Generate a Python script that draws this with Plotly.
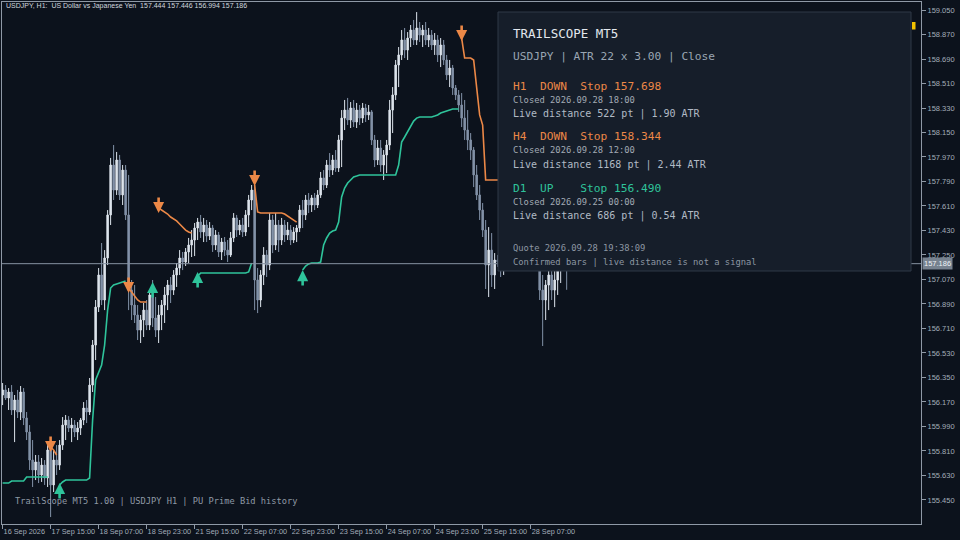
import plotly.graph_objects as go

N = None

# ---------------- data ----------------
bars = list(range(189))

opens = [
    156.221, 156.258, 156.199, 156.243, 156.111, 156.184, 156.096, 156.243, 156.052, 155.949,
    155.743, 155.670, 155.729, 155.633, 155.706, 155.611, 155.817, 155.560, 155.743, 155.706,
    155.853, 156.000, 156.037, 155.978, 156.000, 155.949, 155.978, 156.037, 156.125, 156.096,
    156.294, 156.588, 156.867, 157.103, 156.919, 157.228, 157.544, 157.911, 157.727, 157.948,
    157.691, 157.874, 157.544, 156.992, 156.882, 156.809, 156.698, 156.772, 156.845, 156.735,
    156.956, 156.787, 156.698, 156.809, 156.882, 156.956, 157.029, 156.992, 157.103, 157.154,
    157.228, 157.198, 157.272, 157.323, 157.360, 157.448, 157.492, 157.419, 157.470, 157.389,
    157.448, 157.323, 157.397, 157.272, 157.345, 157.286, 157.250, 157.375, 157.522, 157.433,
    157.470, 157.419, 157.544, 157.654, 157.727, 157.066, 156.919, 157.103, 157.250, 157.176,
    157.507, 157.323, 157.470, 157.360, 157.470, 157.397, 157.433, 157.360, 157.419, 157.448,
    157.580, 157.544, 157.654, 157.617, 157.669, 157.617, 157.691, 157.816, 157.764, 157.911,
    157.874, 157.948, 157.889, 158.095, 158.256, 158.315, 158.242, 158.330, 158.227, 158.315,
    158.256, 158.330, 158.279, 158.301, 158.095, 157.948, 158.036, 157.911, 157.985, 158.058,
    158.315, 158.426, 158.646, 158.720, 158.830, 158.756, 158.844, 158.903, 158.830, 158.918,
    158.866, 158.903, 158.830, 158.866, 158.793, 158.830, 158.720, 158.793, 158.683, 158.573,
    158.624, 158.477, 158.426, 158.352, 158.256, 158.168, 158.095, 158.021, 157.838, 157.691,
    157.580, 157.433, 157.176, 157.286, 157.103, 157.213, 157.198, 157.139, 157.250, 157.323,
    157.397, 157.323, 157.375, 157.448, 157.397, 157.286, 157.323, 157.250, 157.213, 157.198,
    156.992, 156.919, 157.029, 157.103, 156.992, 157.066, 157.139, 157.176, 157.444,
]
highs = [
    156.309, 156.294, 156.272, 156.294, 156.221, 156.258, 156.287, 156.272, 156.096, 156.000,
    155.890, 155.780, 155.780, 155.758, 155.743, 155.853, 155.890, 155.817, 155.853, 155.890,
    156.059, 156.074, 156.066, 156.052, 156.037, 156.022, 156.052, 156.169, 156.184, 156.346,
    156.625, 156.919, 157.154, 157.338, 157.286, 157.580, 157.963, 158.058, 158.007, 157.985,
    157.911, 157.911, 157.838, 157.066, 157.029, 156.882, 156.809, 156.897, 156.919, 156.992,
    157.066, 156.941, 156.882, 156.919, 157.015, 157.066, 157.088, 157.139, 157.191, 157.286,
    157.272, 157.301, 157.375, 157.433, 157.485, 157.522, 157.544, 157.522, 157.507, 157.492,
    157.470, 157.433, 157.419, 157.375, 157.382, 157.360, 157.419, 157.558, 157.544, 157.507,
    157.522, 157.580, 157.691, 157.764, 157.801, 157.154, 157.139, 157.308, 157.286, 157.558,
    157.544, 157.558, 157.507, 157.522, 157.507, 157.492, 157.470, 157.455, 157.470, 157.617,
    157.654, 157.691, 157.705, 157.691, 157.705, 157.727, 157.860, 157.874, 157.948, 157.999,
    157.985, 158.021, 158.132, 158.315, 158.389, 158.404, 158.374, 158.389, 158.367, 158.352,
    158.367, 158.360, 158.352, 158.315, 158.132, 158.095, 158.095, 158.021, 158.095, 158.389,
    158.484, 158.683, 158.778, 158.903, 158.918, 158.888, 158.940, 158.977, 159.035, 158.962,
    158.940, 158.962, 158.918, 158.903, 158.881, 158.866, 158.844, 158.830, 158.720, 158.683,
    158.646, 158.499, 158.462, 158.440, 158.389, 158.315, 158.146, 158.043, 157.911, 157.764,
    157.632, 157.507, 157.455, 157.411, 157.264, 157.250, 157.286, 157.323, 157.360, 157.433,
    157.470, 157.419, 157.507, 157.544, 157.470, 157.360, 157.397, 157.360, 157.286, 157.250,
    157.103, 157.066, 157.176, 157.154, 157.139, 157.206, 157.213, 157.448, 157.446,
]
lows = [
    156.147, 156.184, 156.111, 156.074, 155.875, 156.052, 156.037, 156.000, 155.890, 155.670,
    155.545, 155.596, 155.574, 155.582, 155.560, 155.545, 155.324, 155.508, 155.633, 155.670,
    155.817, 155.890, 155.949, 155.875, 155.912, 155.890, 155.927, 156.000, 156.015, 156.074,
    156.243, 156.478, 156.831, 156.882, 156.845, 157.176, 157.470, 157.654, 157.691, 157.654,
    157.617, 157.507, 156.845, 156.772, 156.750, 156.625, 156.603, 156.647, 156.698, 156.698,
    156.721, 156.647, 156.603, 156.698, 156.750, 156.845, 156.897, 156.956, 157.015, 157.103,
    157.139, 157.169, 157.191, 157.235, 157.242, 157.360, 157.375, 157.345, 157.345, 157.360,
    157.272, 157.286, 157.235, 157.213, 157.242, 157.198, 157.235, 157.345, 157.382, 157.397,
    157.382, 157.389, 157.455, 157.580, 156.845, 156.823, 156.867, 157.029, 157.088, 157.139,
    157.264, 157.286, 157.272, 157.323, 157.345, 157.360, 157.323, 157.338, 157.345, 157.419,
    157.448, 157.507, 157.558, 157.566, 157.580, 157.595, 157.669, 157.727, 157.742, 157.823,
    157.838, 157.860, 157.860, 157.896, 158.168, 158.205, 158.183, 158.190, 158.183, 158.205,
    158.220, 158.227, 158.242, 158.058, 157.896, 157.911, 157.860, 157.801, 157.852, 158.021,
    158.146, 158.389, 158.484, 158.683, 158.697, 158.683, 158.778, 158.793, 158.793, 158.815,
    158.778, 158.793, 158.778, 158.756, 158.720, 158.668, 158.631, 158.646, 158.536, 158.484,
    158.426, 158.389, 158.301, 158.190, 158.095, 158.021, 157.948, 157.749, 157.654, 157.507,
    157.382, 157.000, 156.941, 157.015, 157.000, 157.162, 157.088, 157.103, 157.198, 157.250,
    157.286, 157.235, 157.323, 157.360, 157.250, 157.176, 157.198, 157.154, 157.147, 156.919,
    156.581, 156.772, 156.845, 156.919, 156.867, 156.956, 157.044, 157.139, 156.994,
]
closes = [
    156.258, 156.199, 156.243, 156.111, 156.184, 156.096, 156.243, 156.052, 155.949, 155.743,
    155.670, 155.729, 155.633, 155.706, 155.611, 155.817, 155.560, 155.743, 155.706, 155.853,
    156.000, 156.037, 155.978, 156.000, 155.949, 155.978, 156.037, 156.125, 156.096, 156.294,
    156.588, 156.867, 157.103, 156.919, 157.228, 157.544, 157.911, 157.727, 157.948, 157.691,
    157.874, 157.544, 156.992, 156.882, 156.809, 156.698, 156.772, 156.845, 156.735, 156.956,
    156.787, 156.698, 156.809, 156.882, 156.956, 157.029, 156.992, 157.103, 157.154, 157.228,
    157.198, 157.272, 157.323, 157.360, 157.448, 157.492, 157.419, 157.470, 157.389, 157.448,
    157.323, 157.397, 157.272, 157.345, 157.286, 157.250, 157.375, 157.522, 157.433, 157.470,
    157.419, 157.544, 157.654, 157.727, 157.066, 156.919, 157.103, 157.250, 157.176, 157.507,
    157.323, 157.470, 157.360, 157.470, 157.397, 157.433, 157.360, 157.419, 157.448, 157.580,
    157.544, 157.654, 157.617, 157.669, 157.617, 157.691, 157.816, 157.764, 157.911, 157.874,
    157.948, 157.889, 158.095, 158.256, 158.315, 158.242, 158.330, 158.227, 158.315, 158.256,
    158.330, 158.279, 158.301, 158.095, 157.948, 158.036, 157.911, 157.985, 158.058, 158.315,
    158.426, 158.646, 158.720, 158.830, 158.756, 158.844, 158.903, 158.830, 158.918, 158.866,
    158.903, 158.830, 158.866, 158.793, 158.830, 158.720, 158.793, 158.683, 158.573, 158.624,
    158.477, 158.426, 158.352, 158.256, 158.168, 158.095, 158.021, 157.838, 157.691, 157.580,
    157.433, 157.176, 157.286, 157.103, 157.213, 157.198, 157.139, 157.250, 157.323, 157.397,
    157.323, 157.375, 157.448, 157.397, 157.286, 157.323, 157.250, 157.213, 157.198, 156.992,
    156.919, 157.029, 157.103, 156.992, 157.066, 157.139, 157.176, 157.441, 157.186,
]

# ATR trailing stops (green = long stop, orange = short stop)
trail_up = [
    155.574, 155.574, 155.574, 155.589, 155.589, 155.589, 155.589, 155.589, 155.618, 155.618,
    155.618, 155.618, 155.618, 155.618, 155.618, 155.618, N, N, N, 155.560,
    155.582, 155.596, 155.596, 155.596, 155.596, 155.596, 155.596, 155.596, 155.596, 155.611,
    156.037, 156.331, 156.390, 156.441, 156.588, 156.845, 157.007, 157.029, 157.037, 157.044,
    157.051, 157.059, N, N, N, N, N, N, N, N,
    N, N, N, N, N, N, N, N, N, N,
    N, N, N, N, N, 157.095, 157.117, 157.117, 157.117, 157.117,
    157.117, 157.117, 157.117, 157.117, 157.117, 157.117, 157.117, 157.117, 157.117, 157.117,
    157.117, 157.117, 157.125, 157.191, N, N, N, N, N, N,
    N, N, N, N, N, N, N, N, N, N,
    157.139, 157.169, 157.184, 157.191, 157.191, 157.191, 157.198, 157.323, 157.375, 157.411,
    157.426, 157.433, 157.492, 157.676, 157.742, 157.779, 157.801, 157.823, 157.830, 157.838,
    157.838, 157.838, 157.838, 157.838, 157.838, 157.838, 157.838, 157.838, 157.838, 157.838,
    157.838, 157.838, 157.911, 158.080, 158.117, 158.154, 158.190, 158.234, 158.256, 158.264,
    158.264, 158.264, 158.264, 158.264, 158.271, 158.279, 158.293, 158.301, 158.308, 158.315,
    158.323, 158.323, 158.323, N, N, N, N, N, N, N,
    N, N, N, N, N, N, N, N, N, N,
    N, N, N, N, N, N, N, N, N, N,
    N, N, N, N, N, N, N, N, N,
]
trail_down = [
    N, N, N, N, N, N, N, N, N, N,
    N, N, N, N, N, N, 155.839, 155.817, 155.780, N,
    N, N, N, N, N, N, N, N, N, N,
    N, N, N, N, N, N, N, N, N, N,
    N, N, 157.007, 156.978, 156.948, 156.919, 156.904, 156.904, 156.904, N,
    N, N, 157.595, 157.580, 157.566, 157.551, 157.529, 157.514, 157.500, 157.478,
    157.455, 157.433, 157.419, 157.411, N, N, N, N, N, N,
    N, N, N, N, N, N, N, N, N, N,
    N, N, N, N, 157.764, 157.566, 157.558, 157.558, 157.558, 157.558,
    157.558, 157.558, 157.558, 157.558, 157.551, 157.536, 157.522, 157.507, 157.492, N,
    N, N, N, N, N, N, N, N, N, N,
    N, N, N, N, N, N, N, N, N, N,
    N, N, N, N, N, N, N, N, N, N,
    N, N, N, N, N, N, N, N, N, N,
    N, N, N, N, N, N, N, N, N, N,
    N, N, N, 158.844, 158.697, 158.697, 158.697, 158.683, 158.462, 158.279,
    158.205, 157.801, 157.801, 157.801, 157.801, 157.801, 157.801, 157.801, 157.801, 157.801,
    157.801, 157.764, 157.764, 157.764, 157.764, 157.764, 157.742, 157.742, 157.742, 157.742,
    157.742, 157.698, 157.698, 157.698, 157.698, 157.698, 157.698, 157.698, 157.698,
]

# trend-flip arrows (bar index, arrow-tip price)
down_arrow_bars = [16, 42, 52, 84, 153]
down_arrow_prices = [155.802, 156.970, 157.558, 157.757, 158.822]
up_arrow_bars = [19, 50, 65, 100]
up_arrow_prices = [155.574, 157.051, 157.125, 157.139]

time_tick_bars = [0, 16, 32, 48, 64, 80, 96, 112, 128, 144, 160, 176]
time_tick_labels = ["16 Sep 2026", "17 Sep 15:00", "18 Sep 07:00", "18 Sep 23:00",
                    "21 Sep 15:00", "22 Sep 07:00", "22 Sep 23:00", "23 Sep 15:00",
                    "24 Sep 07:00", "24 Sep 23:00", "25 Sep 15:00", "28 Sep 07:00"]
price_ticks = [155.450, 155.630, 155.810, 155.990, 156.170, 156.350, 156.530, 156.710,
               156.890, 157.070, 157.250, 157.430, 157.610, 157.790, 157.970, 158.150,
               158.330, 158.510, 158.690, 158.870, 159.050]
price_range = [155.273, 159.109]
bar_range = [-0.2, 306.1]

last_bid = 157.186
header_text = "USDJPY, H1:  US Dollar vs Japanese Yen  157.444 157.446 156.994 157.186"
footer_text = "TrailScope MT5 1.00 | USDJPY H1 | PU Prime Bid history"

panel_title = "TRAILSCOPE MT5"
panel_sub = "USDJPY | ATR 22 x 3.00 | Close"
panel_rows = [
    ("H1  DOWN  Stop 157.698", "Closed 2026.09.28 18:00", "Live distance 522 pt | 1.90 ATR", "down"),
    ("H4  DOWN  Stop 158.344", "Closed 2026.09.28 12:00", "Live distance 1168 pt | 2.44 ATR", "down"),
    ("D1  UP    Stop 156.490", "Closed 2026.09.25 00:00", "Live distance 686 pt | 0.54 ATR", "up"),
]
panel_quote = "Quote 2026.09.28 19:38:09"
panel_note = "Confirmed bars | live distance is not a signal"

# ---------------- style ----------------
BG = "#0c121c"
AX = "#8f99a6"
TICK_TXT = "#a3adb9"
UP_COL = "#2fc49b"
DN_COL = "#ec8847"
BULL = "#dde4ec"
BEAR = "#8392a8"
MONO = "DejaVu Sans Mono"
SANS = "Liberation Sans"

assert len(opens) == len(highs) == len(lows) == len(closes) == len(bars)
assert len(trail_up) == len(bars) and len(trail_down) == len(bars)

fig = go.Figure()
fig.add_trace(go.Candlestick(
    x=bars, open=opens, high=highs, low=lows, close=closes,
    increasing=dict(line=dict(color=BULL, width=1), fillcolor=BULL),
    decreasing=dict(line=dict(color=BEAR, width=1), fillcolor=BEAR),
    whiskerwidth=0, showlegend=False, hoverinfo="skip"))
fig.add_trace(go.Scatter(x=bars, y=trail_up, mode="lines", connectgaps=False,
                         line=dict(color=UP_COL, width=1.6), showlegend=False, hoverinfo="skip"))
fig.add_trace(go.Scatter(x=bars, y=trail_down, mode="lines", connectgaps=False,
                         line=dict(color=DN_COL, width=1.6), showlegend=False, hoverinfo="skip"))

for b, p in zip(down_arrow_bars, down_arrow_prices):
    fig.add_annotation(x=b, y=p, xref="x", yref="y", text="", showarrow=True,
                       arrowhead=2, arrowsize=0.85, arrowwidth=2.6, arrowcolor=DN_COL,
                       ax=0, ay=-17, standoff=0)
for b, p in zip(up_arrow_bars, up_arrow_prices):
    fig.add_annotation(x=b, y=p, xref="x", yref="y", text="", showarrow=True,
                       arrowhead=2, arrowsize=0.85, arrowwidth=2.6, arrowcolor=UP_COL,
                       ax=0, ay=17, standoff=0)

# plot-area pixel geometry helpers (plot area x 2..921, y 2..524)
def px(xp):
    return (xp - 2) / 919.0

def py(yp):
    return (524 - yp) / 522.0

shapes = [
    dict(type="line", xref="x domain", yref="y", x0=0, x1=1, y0=last_bid, y1=last_bid,
         line=dict(color="#8793a2", width=1), layer="above"),
    dict(type="rect", xref="paper", yref="paper", x0=px(498), x1=px(911), y0=py(271), y1=py(12),
         fillcolor="#161e2a", line=dict(color="#2e3846", width=1), layer="above"),
    dict(type="rect", xref="paper", yref="paper", x0=px(912), x1=px(915.5), y0=py(29.5), y1=py(22),
         fillcolor="#f2c200", line=dict(width=0), layer="above"),
]

ann = []
ann.append(dict(x=px(4), y=py(6.5), xref="paper", yref="paper", text=header_text, showarrow=False,
                xanchor="left", yanchor="middle", font=dict(family=SANS, size=7, color="#cfd6de")))
ann.append(dict(x=px(13), y=py(501), xref="paper", yref="paper", text=footer_text, showarrow=False,
                xanchor="left", yanchor="middle", font=dict(family=MONO, size=8.7, color="#8f99a5")))
ann.append(dict(x=1, y=last_bid, xref="paper", yref="y", text="157.186", showarrow=False,
                xanchor="left", yanchor="middle", xshift=1, bgcolor="#77828f", borderpad=1,
                font=dict(family=SANS, size=7.5, color="#eef2f5")))

tx = px(511)
ann.append(dict(x=tx, y=py(33.5), xref="paper", yref="paper", text=panel_title, showarrow=False,
                xanchor="left", yanchor="middle", font=dict(family=MONO, size=12.5, color="#e3e8ee")))
ann.append(dict(x=tx, y=py(56.7), xref="paper", yref="paper", text=panel_sub, showarrow=False,
                xanchor="left", yanchor="middle", font=dict(family=MONO, size=11.2, color="#9aa6b3")))
row_tops = [86, 137, 188.3]
for (head, closed, live, kind), ytop in zip(panel_rows, row_tops):
    col = DN_COL if kind == "down" else UP_COL
    ann.append(dict(x=tx, y=py(ytop), xref="paper", yref="paper", text=head.replace(" ", "\u00a0"),
                    showarrow=False, xanchor="left", yanchor="middle",
                    font=dict(family=MONO, size=11.2, color=col)))
    ann.append(dict(x=tx, y=py(ytop + 13.5), xref="paper", yref="paper", text=closed,
                    showarrow=False, xanchor="left", yanchor="middle",
                    font=dict(family=MONO, size=8.8, color="#a2aab4")))
    ann.append(dict(x=tx, y=py(ytop + 28), xref="paper", yref="paper", text=live,
                    showarrow=False, xanchor="left", yanchor="middle",
                    font=dict(family=MONO, size=10, color="#b1bac5")))
ann.append(dict(x=tx, y=py(248.3), xref="paper", yref="paper", text=panel_quote, showarrow=False,
                xanchor="left", yanchor="middle", font=dict(family=MONO, size=8.8, color="#8d97a3")))
ann.append(dict(x=tx, y=py(261.7), xref="paper", yref="paper", text=panel_note, showarrow=False,
                xanchor="left", yanchor="middle", font=dict(family=MONO, size=8.8, color="#8d97a3")))

fig.update_layout(
    width=960, height=540,
    margin=dict(l=2, r=39, t=2, b=16),
    paper_bgcolor=BG, plot_bgcolor=BG,
    showlegend=False,
    shapes=shapes,
    xaxis=dict(range=bar_range, rangeslider=dict(visible=False), showgrid=False, zeroline=False,
               tickmode="array", tickvals=time_tick_bars, ticktext=time_tick_labels,
               ticks="outside", ticklen=4, tickcolor=AX, showline=True, linecolor=AX, linewidth=1,
               mirror=True, ticklabelposition="outside right", automargin=False, tickangle=0,
               tickfont=dict(family=SANS, size=7.3, color=TICK_TXT)),
    yaxis=dict(range=price_range, side="right", showgrid=False, zeroline=False,
               tickmode="array", tickvals=price_ticks, ticktext=[f"{v:.3f}" for v in price_ticks],
               ticks="outside", ticklen=4, tickcolor=AX, showline=True, linecolor=AX, linewidth=1,
               mirror=True, automargin=False,
               tickfont=dict(family=SANS, size=7.5, color=TICK_TXT)),
)
for a in ann:
    fig.add_annotation(**a)

fig.write_html("out.html", config={"displayModeBar": False},
               post_script="document.body.style.margin='0px';document.body.style.background='%s';" % BG)
